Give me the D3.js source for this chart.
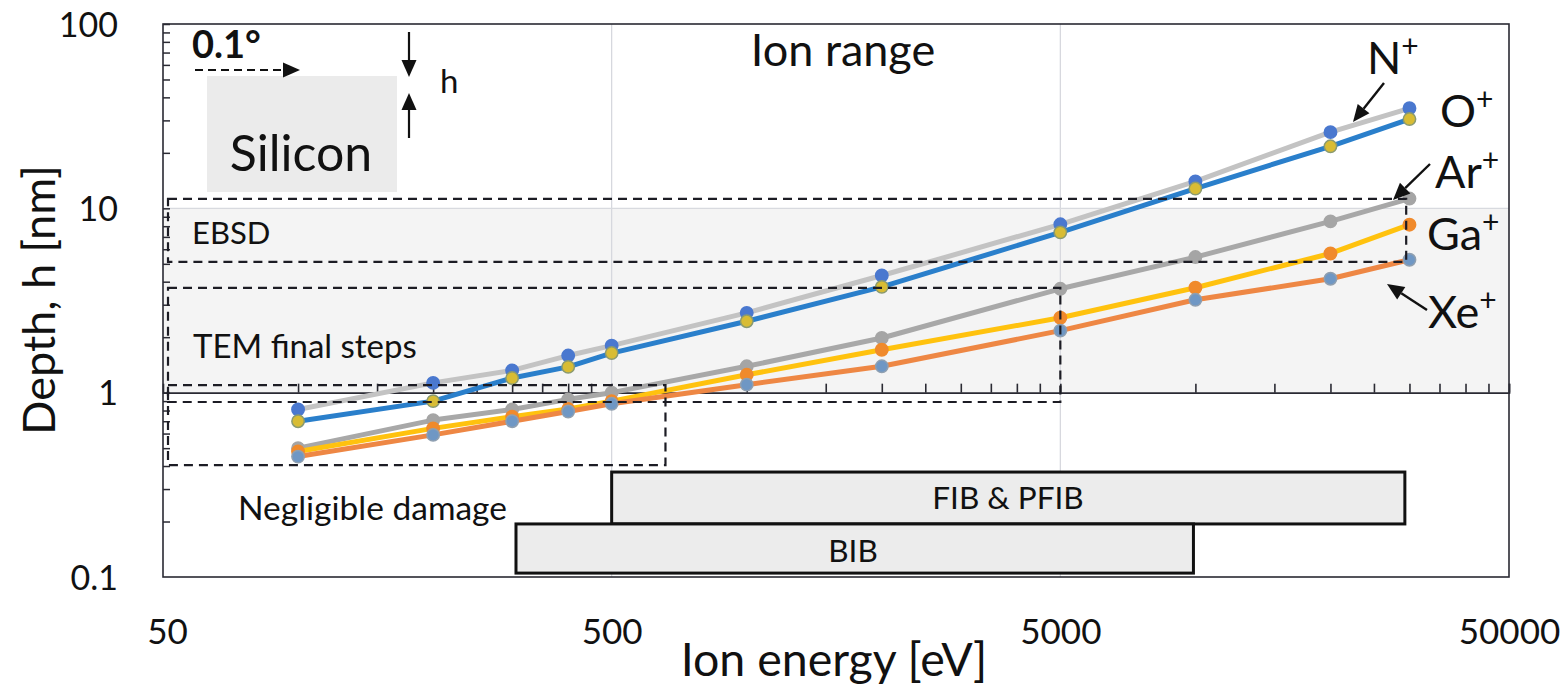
<!DOCTYPE html>
<html><head><meta charset="utf-8">
<script src="https://cdn.jsdelivr.net/npm/d3@7"></script>
<style>
body{margin:0;background:#fff}
svg{display:block}
text{font-family:Lato,"Open Sans",sans-serif;fill:#111}
</style>
</head><body><svg id="c" width="1567" height="689"></svg>
<script>
// ---------- data ----------
const energies = [100, 200, 300, 400, 500, 1000, 2000, 5000, 10000, 20000, 30000];
const depthN  = [0.81, 1.13, 1.32, 1.59, 1.80, 2.71, 4.32, 8.19, 14.0, 25.9, 34.9];
const depthO  = [0.70, 0.90, 1.20, 1.38, 1.64, 2.44, 3.75, 7.41, 12.8, 21.7, 30.5];
const depthAr = [0.50, 0.71, 0.81, 0.92, 1.00, 1.39, 1.98, 3.66, 5.44, 8.5, 11.3];
const depthGa = [0.48, 0.64, 0.74, 0.815, 0.90, 1.25, 1.71, 2.55, 3.71, 5.69, 8.15];
const depthXe = [0.45, 0.59, 0.70, 0.79, 0.87, 1.105, 1.39, 2.17, 3.19, 4.15, 5.26];
const ionNames = ["N", "O", "Ar", "Ga", "Xe"];

const xTickLabels = [50, 500, 5000, 50000];
const yTickLabels = [0.1, 1, 10, 100];

// dashed application regions: energy range [eV], depth range [nm]
const regionNames = ["EBSD", "TEM final steps", "Negligible damage"];
const regionE0 = [51.3, 51.3, 51.3];
const regionE1 = [29500, 5000, 659];
const regionD0 = [5.12, 0.89, 0.405];
const regionD1 = [11.25, 3.70, 1.10];

// instrument energy ranges (bars)
const methodNames = ["FIB & PFIB", "BIB"];
const methodE0 = [500, 306];
const methodE1 = [29300, 9900];
const methodD0 = [0.194, 0.105];
const methodD1 = [0.371, 0.194];

// ---------- styles ----------
const lineColors   = ["#c3c3c3", "#2a7fcb", "#a8a8a8", "#ffc20e", "#ee8744"];
const markerFill   = ["#4a78cf", "#d8bc34", "#a5a5a5", "#f08a2c", "#6f97c4"];
const markerStroke = ["#4a78cf", "#8a9a70", "#a5a5a5", "#f08a2c", "#8f9fb0"];

const svg = d3.select("#c");
const L = 163, R = 1509, T = 24, B = 577;
const x = d3.scaleLog().domain([50, 50000]).range([L, R]);
const y = d3.scaleLog().domain([0.1, 100]).range([B, T]);

// shaded band between 1 and 10 nm
svg.append("rect").attr("x", L).attr("y", y(10)).attr("width", R - L).attr("height", y(1) - y(10))
  .attr("fill", "#f4f4f4");

// grid lines
svg.append("g").selectAll("line").data([500, 5000]).join("line")
  .attr("x1", d => x(d)).attr("x2", d => x(d)).attr("y1", T).attr("y2", B)
  .attr("stroke", "#d4d6dc").attr("stroke-width", 1.2);
svg.append("line").attr("x1", L).attr("x2", R).attr("y1", y(10)).attr("y2", y(10))
  .attr("stroke", "#d8dadf").attr("stroke-width", 1.2);

// silicon schematic
svg.append("rect").attr("x", 207).attr("y", 76).attr("width", 190).attr("height", 116).attr("fill", "#ebebeb");
svg.append("text").attr("x", 301).attr("y", 171).attr("text-anchor", "middle").attr("font-size", 50).text("Silicon");
svg.append("text").attr("x", 192).attr("y", 58).attr("font-size", 38).attr("font-weight", "bold").text("0.1°");
svg.append("line").attr("x1", 195).attr("x2", 286).attr("y1", 70).attr("y2", 70)
  .attr("stroke", "#111").attr("stroke-width", 2.2).attr("stroke-dasharray", "8,5");
svg.append("path").attr("d", "M300,70 L283,62.5 L283,77.5 Z").attr("fill", "#111");
svg.append("line").attr("x1", 409).attr("x2", 409).attr("y1", 32).attr("y2", 64).attr("stroke", "#111").attr("stroke-width", 2.2);
svg.append("path").attr("d", "M409,77 L401.5,60 L416.5,60 Z").attr("fill", "#111");
svg.append("line").attr("x1", 409).attr("x2", 409).attr("y1", 106).attr("y2", 138).attr("stroke", "#111").attr("stroke-width", 2.2);
svg.append("path").attr("d", "M409,93 L401.5,110 L416.5,110 Z").attr("fill", "#111");
svg.append("text").attr("x", 440).attr("y", 93).attr("font-size", 33).text("h");

// instrument bars
methodNames.forEach((n, i) => {
  svg.append("rect")
    .attr("x", x(methodE0[i])).attr("y", y(methodD1[i]))
    .attr("width", x(methodE1[i]) - x(methodE0[i])).attr("height", y(methodD0[i]) - y(methodD1[i]))
    .attr("fill", "#ececec").attr("stroke", "#111").attr("stroke-width", 3);
});
svg.append("text").attr("x", 1008).attr("y", 509).attr("text-anchor", "middle").attr("font-size", 31.5).text(methodNames[0]);
svg.append("text").attr("x", 853).attr("y", 562).attr("text-anchor", "middle").attr("font-size", 31.5).text(methodNames[1]);

// frame
svg.append("rect").attr("x", L).attr("y", T).attr("width", R - L).attr("height", B - T)
  .attr("fill", "none").attr("stroke", "#2a2a33").attr("stroke-width", 1.6);

// y=1 axis line with x minor ticks
const xMinor = [];
[50, 500, 5000].forEach(b => { for (let k = 2; k <= 10; k++) xMinor.push(b * k); });
const xAx = svg.append("g").attr("transform", `translate(0,${y(1)})`)
  .call(d3.axisTop(x).tickValues(xMinor).tickSize(9).tickFormat(""));
xAx.select(".domain").attr("stroke", "#2a2a33").attr("stroke-width", 1.6);
xAx.selectAll(".tick line").attr("stroke", "#2a2a33").attr("stroke-width", 1.6);

// y minor ticks (inward)
const yMinor = [];
[0.1, 1, 10].forEach(b => { for (let k = 2; k <= 10; k++) yMinor.push(+(b * k).toFixed(3)); });
const yAx = svg.append("g").attr("transform", `translate(${L},0)`)
  .call(d3.axisRight(y).tickValues(yMinor).tickSize(7).tickFormat(""));
yAx.select(".domain").remove();
yAx.selectAll(".tick line").attr("stroke", "#2a2a33").attr("stroke-width", 1.5);

// tick labels
const yLab = svg.append("g").attr("transform", `translate(${L},0)`)
  .call(d3.axisLeft(y).tickValues(yTickLabels).tickSize(0).tickPadding(45).tickFormat(d => String(d)));
yLab.select(".domain").remove();
yLab.selectAll("text").attr("font-size", 34).attr("font-family", "Lato").attr("fill", "#111").attr("dy", "0.36em");

const xLab = svg.append("g").attr("transform", `translate(0,${B})`)
  .call(d3.axisBottom(x).tickValues(xTickLabels).tickSize(0).tickPadding(42).tickFormat(d => String(d)));
xLab.select(".domain").remove();
xLab.selectAll("text").attr("font-size", 35).attr("font-family", "Lato").attr("fill", "#111");
xLab.selectAll(".tick").filter(d => d === 50).select("text").attr("dx", 4);

// axis titles
svg.append("text").attr("x", 834).attr("y", 676).attr("text-anchor", "middle").attr("font-size", 46.5).text("Ion energy [eV]");
svg.append("text").attr("transform", "translate(55,300) rotate(-90)").attr("text-anchor", "middle").attr("font-size", 45).text("Depth, h [nm]");
svg.append("text").attr("x", 843).attr("y", 66).attr("text-anchor", "middle").attr("font-size", 45).text("Ion range");

// series
const series = [depthN, depthO, depthAr, depthGa, depthXe];
const line = d3.line().x(d => x(d[0])).y(d => y(d[1]));
series.forEach((s, i) => {
  const pts = energies.map((e, j) => [e, s[j]]);
  svg.append("path").datum(pts).attr("d", line).attr("fill", "none")
    .attr("stroke", lineColors[i]).attr("stroke-width", 5).attr("stroke-linejoin", "round");
  svg.append("g").selectAll("circle").data(pts).join("circle")
    .attr("cx", d => x(d[0])).attr("cy", d => y(d[1])).attr("r", 6.2)
    .attr("fill", markerFill[i]).attr("stroke", markerStroke[i]).attr("stroke-width", 1.5);
});

// dashed regions
regionNames.forEach((n, i) => {
  svg.append("rect")
    .attr("x", x(regionE0[i])).attr("y", y(regionD1[i]))
    .attr("width", x(regionE1[i]) - x(regionE0[i])).attr("height", y(regionD0[i]) - y(regionD1[i]))
    .attr("fill", "none").attr("stroke", "#1c1c24").attr("stroke-width", 2.2).attr("stroke-dasharray", "9,6");
});
svg.append("text").attr("x", 192).attr("y", 244).attr("font-size", 31).text(regionNames[0]);
svg.append("text").attr("x", 193).attr("y", 358).attr("font-size", 33).text(regionNames[1]);
svg.append("text").attr("x", 238).attr("y", 520).attr("font-size", 33.5).text(regionNames[2]);

// ion labels
const ionPos = [[1367, 74], [1440, 127], [1435, 188], [1427, 250], [1428, 328]];
ionNames.forEach((n, i) => {
  const t = svg.append("text").attr("x", ionPos[i][0]).attr("y", ionPos[i][1]).attr("font-size", 45);
  t.append("tspan").text(n);
  t.append("tspan").attr("dy", -17).attr("font-size", 30).text("+");
});

// arrows
function arrow(x1, y1, x2, y2) {
  const a = Math.atan2(y2 - y1, x2 - x1), h = 17, w = 7.5;
  const bx = x2 - h * Math.cos(a), by = y2 - h * Math.sin(a);
  svg.append("line").attr("x1", x1).attr("y1", y1).attr("x2", bx).attr("y2", by).attr("stroke", "#111").attr("stroke-width", 2.4);
  svg.append("path").attr("d", `M${x2},${y2} L${bx + w * Math.sin(a)},${by - w * Math.cos(a)} L${bx - w * Math.sin(a)},${by + w * Math.cos(a)} Z`).attr("fill", "#111");
}
arrow(1384, 83, 1353, 122);
arrow(1430, 164, 1393, 200);
arrow(1427, 310, 1387, 284);
</script>
</body></html>
